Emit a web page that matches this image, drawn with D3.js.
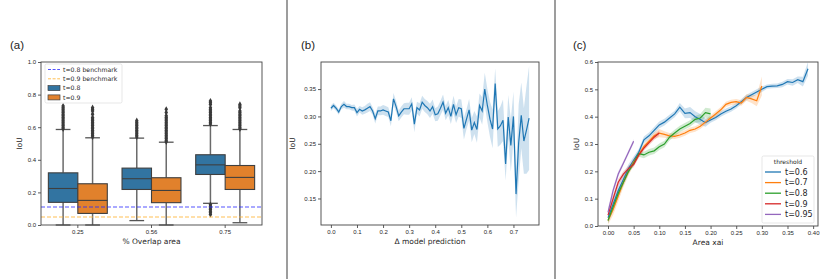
<!DOCTYPE html>
<html>
<head>
<meta charset="utf-8">
<script src="https://cdn.jsdelivr.net/npm/d3@7"></script>
<style>
  body { margin: 0; background: #fff; }
  svg { display: block; font-family: "DejaVu Sans", sans-serif; }
</style>
</head>
<body>
<svg id="fig" width="831" height="279"></svg>
<script>
// ---------- panel (a) data ----------
const overlapCats = ["0.25", "0.56", "0.75"];
const hueNames = ["t=0.8", "t=0.9"];
const q1T08 = [0.139, 0.218, 0.310];
const medT08 = [0.224, 0.284, 0.369];
const q3T08 = [0.320, 0.349, 0.431];
const whiskLoT08 = [0.000, 0.027, 0.133];
const whiskHiT08 = [0.586, 0.533, 0.610];
const q1T09 = [0.071, 0.137, 0.218];
const medT09 = [0.151, 0.212, 0.292];
const q3T09 = [0.253, 0.290, 0.365];
const whiskLoT09 = [0.000, 0.000, 0.014];
const whiskHiT09 = [0.535, 0.508, 0.586];
const outliersT08 = [
  [0.59, 0.60, 0.61, 0.62, 0.63, 0.64, 0.65, 0.66, 0.67, 0.68, 0.69, 0.70, 0.71, 0.72, 0.73],
  [0.54, 0.55, 0.56, 0.57, 0.58, 0.59, 0.60, 0.61, 0.62, 0.63, 0.64],
  [0.62, 0.63, 0.64, 0.65, 0.66, 0.67, 0.68, 0.69, 0.70, 0.71, 0.72, 0.74, 0.75, 0.76,
   0.125, 0.115, 0.105, 0.095, 0.085, 0.075, 0.065]
];
const outliersT09 = [
  [0.54, 0.55, 0.56, 0.57, 0.58, 0.59, 0.60, 0.61, 0.62, 0.63, 0.64, 0.65, 0.66, 0.68, 0.70, 0.71, 0.72],
  [0.51, 0.52, 0.53, 0.54, 0.55, 0.56, 0.57, 0.58, 0.59, 0.60, 0.61, 0.62, 0.63, 0.64, 0.65, 0.66, 0.67, 0.69, 0.71],
  [0.59, 0.60, 0.61, 0.62, 0.63, 0.64, 0.65, 0.66, 0.67, 0.68, 0.69, 0.70, 0.72, 0.73, 0.74]
];
const benchmarkNames = ["t=0.8 benchmark", "t=0.9 benchmark"];
const benchmarkValues = [0.11, 0.049];
const iouTicksA = [0, 0.2, 0.4, 0.6, 0.8, 1.0];

// ---------- panel (b) data ----------
const deltaPred = [0.00, 0.01, 0.02, 0.03, 0.04, 0.05, 0.06, 0.07, 0.08, 0.09,
  0.10, 0.11, 0.12, 0.13, 0.14, 0.15, 0.16, 0.17, 0.18, 0.19,
  0.20, 0.21, 0.22, 0.23, 0.24, 0.25, 0.26, 0.27, 0.28, 0.29,
  0.30, 0.31, 0.32, 0.33, 0.34, 0.35, 0.36, 0.37, 0.38, 0.39,
  0.40, 0.41, 0.42, 0.43, 0.44, 0.45, 0.46, 0.47, 0.48, 0.49,
  0.50, 0.51, 0.52, 0.53, 0.54, 0.55, 0.56, 0.57, 0.58, 0.59,
  0.60, 0.61, 0.62, 0.63, 0.64, 0.65, 0.66, 0.67, 0.68, 0.69,
  0.70, 0.71, 0.72, 0.73, 0.74, 0.75, 0.76];
const iouByDelta = [0.315, 0.320, 0.315, 0.308, 0.318, 0.322, 0.318, 0.318, 0.316, 0.316,
  0.307, 0.313, 0.310, 0.312, 0.315, 0.318, 0.310, 0.296, 0.310, 0.310,
  0.312, 0.310, 0.308, 0.292, 0.332, 0.318, 0.301, 0.308, 0.314, 0.314,
  0.314, 0.323, 0.286, 0.316, 0.312, 0.326, 0.320, 0.316, 0.310, 0.318,
  0.303, 0.305, 0.315, 0.326, 0.306, 0.316, 0.300, 0.322, 0.303, 0.316,
  0.314, 0.278, 0.295, 0.312, 0.275, 0.289, 0.276, 0.320, 0.310, 0.350,
  0.320, 0.295, 0.277, 0.360, 0.277, 0.283, 0.293, 0.213, 0.299, 0.247,
  0.300, 0.158, 0.252, 0.302, 0.255, 0.275, 0.297];
const ciByDelta = [0.005, 0.005, 0.005, 0.005, 0.005, 0.006, 0.005, 0.005, 0.005, 0.006,
  0.007, 0.006, 0.007, 0.007, 0.008, 0.008, 0.007, 0.009, 0.008, 0.008,
  0.009, 0.009, 0.009, 0.010, 0.011, 0.010, 0.010, 0.010, 0.010, 0.011,
  0.011, 0.012, 0.015, 0.011, 0.012, 0.012, 0.012, 0.012, 0.013, 0.013,
  0.012, 0.013, 0.013, 0.014, 0.013, 0.014, 0.014, 0.016, 0.015, 0.016,
  0.017, 0.020, 0.018, 0.020, 0.022, 0.021, 0.024, 0.022, 0.025, 0.030,
  0.030, 0.032, 0.035, 0.028, 0.033, 0.035, 0.038, 0.030, 0.040, 0.048,
  0.045, 0.043, 0.070, 0.060, 0.060, 0.080, 0.095];
const deltaTicks = [0, 0.1, 0.2, 0.3, 0.4, 0.5, 0.6, 0.7];
const iouTicksB = [0.15, 0.20, 0.25, 0.30, 0.35];

// ---------- panel (c) data ----------
const areaXai = [0.00, 0.01, 0.02, 0.03, 0.04, 0.05, 0.06, 0.07, 0.08, 0.09,
  0.10, 0.11, 0.12, 0.13, 0.14, 0.15, 0.16, 0.17, 0.18, 0.19,
  0.20, 0.21, 0.22, 0.23, 0.24, 0.25, 0.26, 0.27, 0.28, 0.29,
  0.30, 0.31, 0.32, 0.33, 0.34, 0.35, 0.36, 0.37, 0.38, 0.39];
const thresholdNames = ["t=0.6", "t=0.7", "t=0.8", "t=0.9", "t=0.95"];
const iouT06 = [0.030, 0.080, 0.130, 0.170, 0.210, 0.240, 0.270, 0.315, 0.330, 0.350,
  0.370, 0.380, 0.395, 0.410, 0.435, 0.412, 0.415, 0.400, 0.390, 0.378,
  0.388, 0.397, 0.410, 0.420, 0.428, 0.440, 0.455, 0.470, 0.480, 0.490,
  0.500, 0.510, 0.512, 0.513, 0.518, 0.528, 0.525, 0.535, 0.528, 0.575];
const iouT07 = [0.020, 0.060, 0.110, 0.160, 0.200, 0.235, 0.260, 0.290, 0.310, 0.330,
  0.340, 0.335, 0.330, 0.328, 0.333, 0.340, 0.350, 0.355, 0.365, 0.380,
  0.395, 0.410, 0.425, 0.445, 0.452, 0.455, 0.450, 0.470, 0.465, 0.458, 0.512];
const iouT08 = [0.020, 0.070, 0.120, 0.160, 0.200, 0.230, 0.265, 0.260, 0.270, 0.275,
  0.290, 0.300, 0.325, 0.340, 0.355, 0.365, 0.375, 0.390, 0.395, 0.415, 0.410];
const iouT09 = [0.040, 0.100, 0.160, 0.190, 0.210, 0.225, 0.260, 0.285, 0.305, 0.325, 0.340];
const iouT095 = [0.050, 0.130, 0.190, 0.230, 0.270, 0.310];
const ciT06 = [0.020, 0.020, 0.020, 0.018, 0.016, 0.014, 0.012, 0.012, 0.012, 0.012,
  0.012, 0.012, 0.012, 0.012, 0.015, 0.018, 0.020, 0.020, 0.020, 0.015,
  0.010, 0.010, 0.010, 0.010, 0.010, 0.010, 0.010, 0.010, 0.010, 0.010,
  0.010, 0.008, 0.008, 0.008, 0.010, 0.010, 0.012, 0.012, 0.018, 0.025];
const ciT07 = [0.015, 0.020, 0.020, 0.018, 0.015, 0.012, 0.010, 0.010, 0.010, 0.012,
  0.015, 0.012, 0.010, 0.010, 0.010, 0.010, 0.010, 0.010, 0.010, 0.010,
  0.010, 0.010, 0.010, 0.010, 0.010, 0.010, 0.010, 0.012, 0.015, 0.020, 0.035];
const ciT08 = [0.010, 0.015, 0.015, 0.012, 0.010, 0.010, 0.012, 0.012, 0.012, 0.012,
  0.012, 0.012, 0.012, 0.012, 0.012, 0.012, 0.012, 0.012, 0.015, 0.018, 0.020];
const ciT09 = [0.015, 0.015, 0.012, 0.010, 0.010, 0.010, 0.010, 0.010, 0.010, 0.010, 0.010];
const ciT095 = [0.015, 0.012, 0.010, 0.008, 0.008, 0.008];
const areaTicks = [0, 0.05, 0.10, 0.15, 0.20, 0.25, 0.30, 0.35, 0.40];
const iouTicksC = [0, 0.1, 0.2, 0.3, 0.4, 0.5, 0.6];

// ---------- drawing ----------
const svg = d3.select("#fig");
svg.append("rect").attr("width", 831).attr("height", 279).attr("fill", "#fff");

const tab10 = ["#1f77b4", "#ff7f0e", "#2ca02c", "#d62728", "#9467bd"];
const boxColors = ["#3274a1", "#e1812c"];
const edgeGray = "#3f3f3f";

// panel separators
[287, 555].forEach(px => {
  svg.append("line")
    .attr("x1", px).attr("x2", px).attr("y1", 0).attr("y2", 279)
    .attr("stroke", "#9d9d9d").attr("stroke-width", 2);
});

function styleAxis(g) {
  g.select(".domain").remove();
  g.selectAll(".tick line").attr("stroke", "#333").attr("stroke-width", 0.8);
  g.selectAll(".tick text").attr("fill", "#262626").style("font-size", "6px");
}

function panel(left, top, w, h) {
  return svg.append("g").attr("transform", "translate(" + left + "," + top + ")");
}

function frame(g, w, h) {
  g.append("rect")
    .attr("width", w).attr("height", h)
    .attr("fill", "none").attr("stroke", "#444").attr("stroke-width", 0.9);
}

function labels(g, w, h, xText, yText, yLabelX, tag, tagX) {
  g.append("text")
    .attr("x", w / 2).attr("y", h + 19)
    .attr("text-anchor", "middle")
    .style("font-size", "7.5px").attr("fill", "#262626")
    .text(xText);
  g.append("text")
    .attr("transform", "translate(" + yLabelX + "," + (h / 2) + ") rotate(-90)")
    .attr("text-anchor", "middle")
    .style("font-size", "7.5px").attr("fill", "#262626")
    .text(yText);
  g.append("text")
    .attr("x", tagX).attr("y", -13)
    .style("font-family", "'Liberation Sans', Arial, sans-serif")
    .style("font-size", "11.5px").attr("fill", "#222")
    .text(tag);
}

// ===== (a) grouped box plot =====
(function () {
  const w = 221, h = 163;
  const g = panel(41, 62, w, h);
  const x = d3.scaleBand().domain(overlapCats).range([0, w]);
  const y = d3.scaleLinear().domain([0, 1]).range([h, 0]);
  const boxW = x.bandwidth() * 0.8 / 2;

  g.append("g").attr("transform", "translate(0," + h + ")")
    .call(d3.axisBottom(x).tickSize(3).tickPadding(2)).call(styleAxis);
  g.append("g")
    .call(d3.axisLeft(y).tickValues(iouTicksA).tickFormat(d3.format(".1f")).tickSize(3).tickPadding(2))
    .call(styleAxis);

  const series = [
    { q1: q1T08, med: medT08, q3: q3T08, lo: whiskLoT08, hi: whiskHiT08, out: outliersT08 },
    { q1: q1T09, med: medT09, q3: q3T09, lo: whiskLoT09, hi: whiskHiT09, out: outliersT09 }
  ];
  const diamond = d3.symbol().type(d3.symbolDiamond).size(11);

  series.forEach((s, si) => {
    overlapCats.forEach((c, ci) => {
      const x0 = x(c) + x.bandwidth() / 2 + (si === 0 ? -boxW : 0);
      const cx = x0 + boxW / 2;
      // whiskers
      g.append("line").attr("x1", cx).attr("x2", cx)
        .attr("y1", y(s.q3[ci])).attr("y2", y(s.hi[ci]))
        .attr("stroke", "#6a6a6a").attr("stroke-width", 1.5);
      g.append("line").attr("x1", cx).attr("x2", cx)
        .attr("y1", y(s.q1[ci])).attr("y2", y(s.lo[ci]))
        .attr("stroke", "#6a6a6a").attr("stroke-width", 1.5);
      [s.hi[ci], s.lo[ci]].forEach(v => {
        g.append("line").attr("x1", cx - boxW / 4).attr("x2", cx + boxW / 4)
          .attr("y1", y(v)).attr("y2", y(v))
          .attr("stroke", "#555").attr("stroke-width", 1.3);
      });
      // box
      g.append("rect")
        .attr("x", x0).attr("width", boxW)
        .attr("y", y(s.q3[ci])).attr("height", y(s.q1[ci]) - y(s.q3[ci]))
        .attr("fill", boxColors[si]).attr("stroke", edgeGray).attr("stroke-width", 1.1);
      g.append("line").attr("x1", x0).attr("x2", x0 + boxW)
        .attr("y1", y(s.med[ci])).attr("y2", y(s.med[ci]))
        .attr("stroke", edgeGray).attr("stroke-width", 1.1);
      // outliers
      g.selectAll(null).data(s.out[ci]).enter().append("path")
        .attr("d", diamond)
        .attr("transform", d => "translate(" + cx + "," + y(d) + ")")
        .attr("fill", "#3a3a3a");
    });
  });

  // benchmark lines
  const benchColors = ["rgba(40,40,255,0.8)", "rgba(255,175,40,0.8)"];
  benchmarkValues.forEach((v, i) => {
    g.append("line").attr("x1", 0).attr("x2", w)
      .attr("y1", y(v)).attr("y2", y(v))
      .attr("stroke", benchColors[i]).attr("stroke-width", 1.1)
      .attr("stroke-dasharray", "4,2");
  });

  frame(g, w, h);
  labels(g, w, h, "% Overlap area", "IoU", -19, "(a)", -31);

  // legend
  const lg = g.append("g").attr("transform", "translate(4,2)");
  lg.append("rect").attr("width", 77).attr("height", 39).attr("rx", 1.5)
    .attr("fill", "#fff").attr("fill-opacity", 0.85).attr("stroke", "#ddd").attr("stroke-width", 0.7);
  const items = [
    { kind: "line", color: benchColors[0], text: benchmarkNames[0] },
    { kind: "line", color: benchColors[1], text: benchmarkNames[1] },
    { kind: "box", color: boxColors[0], text: hueNames[0] },
    { kind: "box", color: boxColors[1], text: hueNames[1] }
  ];
  items.forEach((it, i) => {
    const yy = 5.5 + i * 9.3;
    if (it.kind === "line") {
      lg.append("line").attr("x1", 3).attr("x2", 15).attr("y1", yy).attr("y2", yy)
        .attr("stroke", it.color).attr("stroke-width", 1).attr("stroke-dasharray", "3,1.6");
    } else {
      lg.append("rect").attr("x", 3).attr("y", yy - 2.5).attr("width", 12).attr("height", 5)
        .attr("fill", it.color).attr("stroke", edgeGray).attr("stroke-width", 0.7);
    }
    lg.append("text").attr("x", 18).attr("y", yy + 2.2)
      .style("font-size", "6.2px").attr("fill", "#262626").text(it.text);
  });
})();

// ===== (b) line with CI band =====
(function () {
  const w = 218, h = 163;
  const g = panel(321, 62, w, h);
  const x = d3.scaleLinear().domain([-0.038, 0.798]).range([0, w]);
  const y = d3.scaleLinear().domain([0.1015, 0.3995]).range([h, 0]);
  const pts = deltaPred.map((d, i) => ({ x: d, y: iouByDelta[i], ci: ciByDelta[i] }));

  g.append("g").attr("transform", "translate(0," + h + ")")
    .call(d3.axisBottom(x).tickValues(deltaTicks).tickFormat(d3.format(".1f")).tickSize(3).tickPadding(2))
    .call(styleAxis);
  g.append("g")
    .call(d3.axisLeft(y).tickValues(iouTicksB).tickFormat(d3.format(".2f")).tickSize(3).tickPadding(2))
    .call(styleAxis);

  g.append("path").datum(pts)
    .attr("d", d3.area().x(d => x(d.x)).y0(d => y(d.y - d.ci)).y1(d => y(d.y + d.ci)))
    .attr("fill", tab10[0]).attr("fill-opacity", 0.22);
  g.append("path").datum(pts)
    .attr("d", d3.line().x(d => x(d.x)).y(d => y(d.y)))
    .attr("fill", "none").attr("stroke", tab10[0]).attr("stroke-width", 1.2);

  frame(g, w, h);
  labels(g, w, h, "\u0394 model prediction", "IoU", -26, "(b)", -20);
})();

// ===== (c) multiple lines with CI bands =====
(function () {
  const w = 220, h = 164;
  const g = panel(598, 62, w, h);
  const x = d3.scaleLinear().domain([-0.0195, 0.4095]).range([0, w]);
  const y = d3.scaleLinear().domain([0, 0.6]).range([h, 0]);
  const vals = [iouT06, iouT07, iouT08, iouT09, iouT095];
  const cis = [ciT06, ciT07, ciT08, ciT09, ciT095];

  g.append("g").attr("transform", "translate(0," + h + ")")
    .call(d3.axisBottom(x).tickValues(areaTicks).tickFormat(d3.format(".2f")).tickSize(3).tickPadding(2))
    .call(styleAxis);
  g.append("g")
    .call(d3.axisLeft(y).tickValues(iouTicksC).tickFormat(d3.format(".1f")).tickSize(3).tickPadding(2))
    .call(styleAxis);

  vals.forEach((v, k) => {
    const pts = v.map((d, i) => ({ x: areaXai[i], y: d, ci: cis[k][i] }));
    g.append("path").datum(pts)
      .attr("d", d3.area().x(d => x(d.x)).y0(d => y(d.y - d.ci)).y1(d => y(d.y + d.ci)))
      .attr("fill", tab10[k]).attr("fill-opacity", 0.22);
  });
  vals.forEach((v, k) => {
    const pts = v.map((d, i) => ({ x: areaXai[i], y: d }));
    g.append("path").datum(pts)
      .attr("d", d3.line().x(d => x(d.x)).y(d => y(d.y)))
      .attr("fill", "none").attr("stroke", tab10[k]).attr("stroke-width", 1.2);
  });

  frame(g, w, h);
  labels(g, w, h, "Area xai", "IoU", -19, "(c)", -25);

  // legend
  const lg = g.append("g").attr("transform", "translate(164,94)");
  lg.append("rect").attr("width", 52).attr("height", 67).attr("rx", 1.5)
    .attr("fill", "#fff").attr("fill-opacity", 0.85).attr("stroke", "#ddd").attr("stroke-width", 0.7);
  lg.append("text").attr("x", 26).attr("y", 7.5).attr("text-anchor", "middle")
    .style("font-size", "6px").attr("fill", "#262626").text("threshold");
  thresholdNames.forEach((t, i) => {
    const yy = 16 + i * 10.6;
    lg.append("line").attr("x1", 3).attr("x2", 19).attr("y1", yy).attr("y2", yy)
      .attr("stroke", tab10[i]).attr("stroke-width", 1.3);
    lg.append("text").attr("x", 23).attr("y", yy + 2.8)
      .style("font-size", "8px").attr("fill", "#262626").text(t);
  });
})();
</script>
</body>
</html>
